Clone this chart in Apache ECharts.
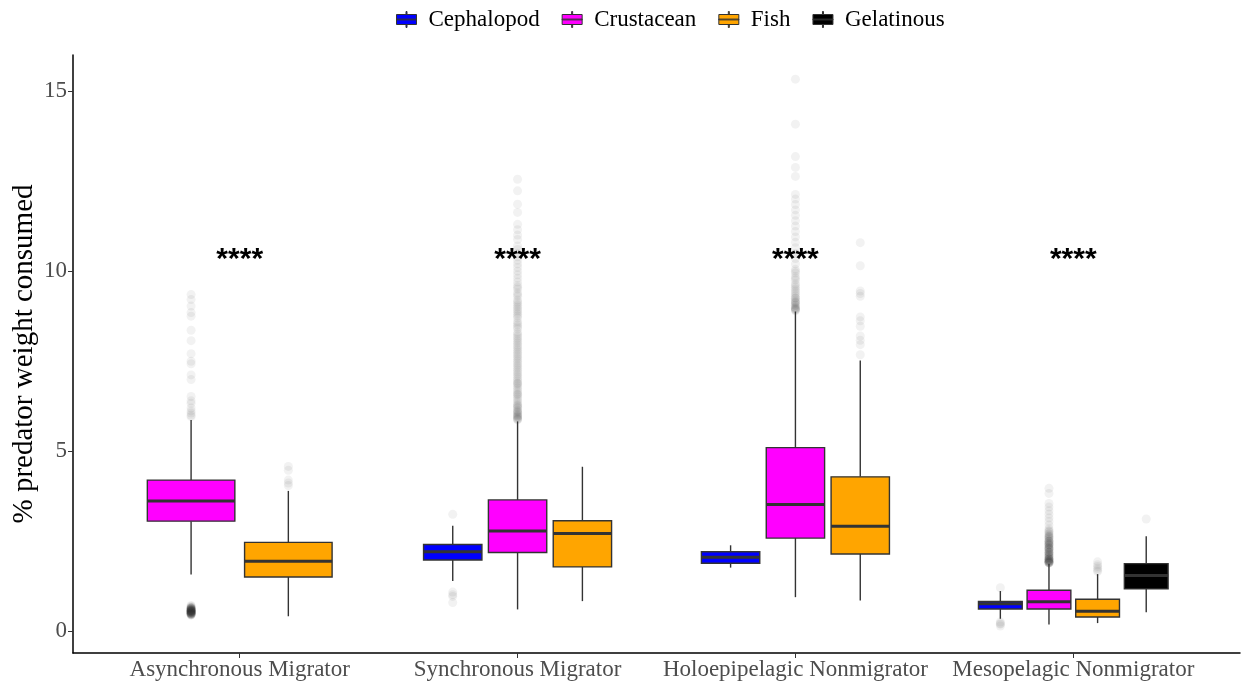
<!DOCTYPE html>
<html>
<head>
<meta charset="utf-8">
<script src="https://cdn.jsdelivr.net/npm/echarts@6/dist/echarts.min.js"></script>
<style>
  html, body { margin: 0; background: #fff; }
  #chart { width: 1243px; height: 681px; }
</style>
</head>
<body>
<div id="chart"></div>
<script>
const categories = ['Asynchronous Migrator', 'Synchronous Migrator', 'Holoepipelagic Nonmigrator', 'Mesopelagic Nonmigrator'];
const groups = ['Cephalopod', 'Crustacean', 'Fish', 'Gelatinous'];
const yTicks = [0, 5, 10, 15];
const signifLabels = ['****', '****', '****', '****'];
const signifY = [10.33, 10.33, 10.33, 10.33];

// [lower whisker, Q1, median, Q3, upper whisker] per category; null = prey group absent
const cephalopodBoxes = [null, [1.40, 1.98, 2.21, 2.41, 2.93], [1.77, 1.89, 2.06, 2.21, 2.39], [0.35, 0.62, 0.77, 0.83, 1.12]];
const crustaceanBoxes = [[1.58, 3.06, 3.62, 4.20, 5.87], [0.61, 2.19, 2.79, 3.65, 5.83], [0.95, 2.59, 3.52, 5.10, 8.88], [0.19, 0.62, 0.82, 1.14, 1.88]];
const fishBoxes = [[0.42, 1.51, 1.95, 2.47, 3.90], [0.84, 1.79, 2.72, 3.07, 4.57], [0.86, 2.15, 2.92, 4.29, 7.52], [0.23, 0.40, 0.56, 0.89, 1.59]];
const gelatinousBoxes = [null, null, null, [0.53, 1.18, 1.55, 1.88, 2.64]];

// outlying points per category
const cephalopodOutliers = [[], [3.25, 1.09, 1.02, 0.97, 0.80], [], [1.21, 0.26, 0.22, 0.20, 0.15]];
const crustaceanOutliers = [
  [9.35, 9.21, 9.03, 8.85, 8.75, 8.36, 8.07, 7.71, 7.50, 7.43, 7.12, 6.99, 6.52, 6.40, 6.33, 6.20, 6.12, 6.06, 6.00, 5.96,
   0.72, 0.70, 0.68, 0.66, 0.65, 0.64, 0.63, 0.62, 0.61, 0.60, 0.59, 0.58, 0.57, 0.56, 0.55, 0.54, 0.53, 0.52, 0.51, 0.50,
   0.49, 0.48, 0.47, 0.46, 0.45, 0.55, 0.52, 0.50, 0.58, 0.62, 0.48, 0.53, 0.56, 0.60, 0.51, 0.54, 0.57, 0.49, 0.59, 0.64,
   0.66, 0.61, 0.58, 0.55, 0.52, 0.50, 0.47, 0.63, 0.57, 0.54],
  [12.55, 12.23, 11.86, 11.63, 11.30, 11.15, 11.00, 10.88, 10.70, 10.60, 10.50, 10.40, 10.30, 10.20, 10.10, 10.00, 9.90, 9.80,
   9.70, 9.60, 9.50, 9.40, 9.30, 9.20, 9.10, 9.00, 8.90, 8.80, 8.70, 8.60, 8.50, 8.40, 8.30, 8.20, 8.10, 8.00, 7.90, 7.80,
   7.70, 7.60, 7.50, 7.40, 7.30, 7.20, 7.10, 7.00, 6.90, 6.80, 6.70, 6.60, 6.50, 6.40, 6.30, 6.20, 6.10, 6.00, 5.90,
   8.05, 7.85, 7.55, 7.35, 7.15, 6.95, 6.75, 6.55, 6.35, 6.25, 6.15, 6.05, 6.02, 5.95, 5.92, 5.87, 6.45, 6.65, 6.85,
   7.05, 7.65, 8.25, 8.55, 8.85, 9.05, 9.35, 9.55, 7.95, 7.25, 6.22, 6.08, 5.98, 5.89,
   9.15, 8.95, 8.75, 8.45, 8.15, 7.75, 7.45, 6.88, 6.58, 6.28, 6.12, 5.96],
  [15.33, 14.08, 13.18, 12.88, 12.63, 12.13, 12.00, 11.85, 11.70, 11.55, 11.40, 11.25, 11.10, 10.95, 10.80, 10.65, 10.50,
   10.35, 10.20, 10.05, 9.95, 9.85, 9.75, 9.65, 9.55, 9.45, 9.35, 9.25, 9.15, 9.05, 8.95, 8.90,
   9.80, 9.60, 9.40, 9.30, 9.20, 9.10, 9.00, 8.97, 8.92, 9.50, 10.00, 9.15, 9.05, 8.93, 9.25, 9.12, 8.98],
  [3.97, 3.83, 3.55, 3.45, 3.35, 3.25, 3.15, 3.05, 2.95, 2.85, 2.80, 2.75, 2.70, 2.65, 2.60, 2.55, 2.50, 2.45, 2.40, 2.35,
   2.30, 2.25, 2.20, 2.15, 2.10, 2.05, 2.00, 1.95, 1.90, 2.70, 2.60, 2.50, 2.40, 2.30, 2.20, 2.10, 2.00, 1.95, 1.90, 2.65,
   2.55, 2.45, 2.35, 2.25, 2.15, 2.05, 2.00, 1.92, 1.90, 2.50, 2.30, 2.10, 2.00, 1.95, 2.40, 2.20, 2.05, 1.93, 1.90, 2.78,
   2.62, 2.48, 2.32, 2.18, 2.02, 1.97, 1.91, 2.42, 2.28, 2.12, 1.98, 1.94]
];
const fishOutliers = [[4.58, 4.47, 4.20, 4.12, 4.05], [], [10.79, 10.15, 9.45, 9.38, 9.30, 8.73, 8.62, 8.47, 8.20, 8.08, 7.96, 7.68], [1.93, 1.85, 1.80, 1.75, 1.70, 1.66]];
const gelatinousOutliers = [[], [], [], [3.12]];

const groupColors = ['#0000ff', '#ff00ff', '#ffa500', '#000000'];
const boxesByGroup = [cephalopodBoxes, crustaceanBoxes, fishBoxes, gelatinousBoxes];
const outliersByGroup = [cephalopodOutliers, crustaceanOutliers, fishOutliers, gelatinousOutliers];
const serif = 'Liberation Serif, Times New Roman, serif';
const edge = '#333333';
// boxplot glyph for the legend keys: whiskers, box, median bar
const keyIcon = 'path://M9.5,0h1v3h-1Z M0,3h20v10h-20Z M0,7.6h20v0.8h-20Z M9.5,13h1v3h-1Z';

// ggplot-style dodge: the present groups share the category's width
const dodgeSpan = 0.7;
function slot(g, c) {
  const present = groups.map((_, i) => i).filter(i => boxesByGroup[i][c]);
  const n = present.length, k = present.indexOf(g);
  const w = dodgeSpan / n;
  return { x: c + 1 + (k - (n - 1) / 2) * w, half: w * 0.45 };
}

function renderBox(params, api) {
  const x = api.value(0), hw = api.value(6);
  const y = i => api.coord([x, api.value(i)])[1];
  const cx = api.coord([x, 0])[0];
  const xl = api.coord([x - hw, 0])[0], xr = api.coord([x + hw, 0])[0];
  const yLow = y(1), yQ1 = y(2), yMed = y(3), yQ3 = y(4), yHigh = y(5);
  const ls = { stroke: edge, lineWidth: 1.4 };
  return {
    type: 'group',
    children: [
      { type: 'line', shape: { x1: cx, y1: yHigh, x2: cx, y2: yQ3 }, style: ls },
      { type: 'line', shape: { x1: cx, y1: yQ1, x2: cx, y2: yLow }, style: ls },
      { type: 'rect', shape: { x: xl, y: yQ3, width: xr - xl, height: yQ1 - yQ3 },
        style: { fill: api.visual('color'), stroke: edge, lineWidth: 1.4 } },
      { type: 'line', shape: { x1: xl, y1: yMed, x2: xr, y2: yMed }, style: { stroke: edge, lineWidth: 3 } }
    ]
  };
}

const boxSeries = groups.map((name, g) => ({
  name,
  type: 'custom',
  z: 3,
  itemStyle: { color: groupColors[g] },
  encode: { x: 0, y: [1, 2, 3, 4, 5] },
  data: boxesByGroup[g]
    .map((b, c) => {
      if (!b) return null;
      const s = slot(g, c);
      return [s.x, ...b, s.half];
    })
    .filter(Boolean),
  renderItem: renderBox
}));

const outlierSeries = groups.map((name, g) => ({
  name: name + ' outliers',
  type: 'scatter',
  z: 2,
  silent: true,
  symbolSize: 9,
  itemStyle: { color: 'rgba(51,51,51,0.08)' },
  data: outliersByGroup[g].flatMap((vals, c) => {
    if (!vals.length) return [];
    const s = slot(g, c);
    return vals.map(v => [s.x, v]);
  })
}));

const signifSeries = {
  type: 'custom',
  z: 5,
  silent: true,
  data: categories.map((_, i) => [i + 1, signifY[i]]),
  renderItem: (params, api) => {
    const p = api.coord([api.value(0), api.value(1)]);
    return {
      type: 'text', x: p[0], y: p[1],
      style: { text: signifLabels[params.dataIndex], align: 'center', verticalAlign: 'middle',
               font: 'bold 30px Liberation Sans, Arial, sans-serif', fill: '#000' }
    };
  }
};

const chart = echarts.init(document.getElementById('chart'), null, { renderer: 'canvas' });
chart.setOption({
  backgroundColor: '#ffffff',
  animation: false,
  legend: {
    data: groups,
    top: 3,
    left: 391,
    icon: keyIcon,
    itemWidth: 20,
    itemHeight: 16,
    itemGap: 22,
    itemStyle: { borderColor: edge, borderWidth: 1 },
    textStyle: { fontFamily: serif, fontSize: 23, color: '#000', padding: [0, 0, 0, 7] }
  },
  grid: { left: 73, right: 3, top: 55, bottom: 28, outerBoundsMode: 'none' },
  xAxis: {
    type: 'value',
    min: 0.4,
    max: 4.6,
    splitLine: { show: false },
    axisLine: { onZero: false, lineStyle: { color: '#000', width: 1.5 } },
    axisTick: { show: true, length: 5, customValues: [1, 2, 3, 4], lineStyle: { color: edge } },
    axisLabel: {
      customValues: [1, 2, 3, 4],
      formatter: v => categories[Math.round(v) - 1],
      color: '#4d4d4d', fontFamily: serif, fontSize: 23, margin: 5
    }
  },
  yAxis: {
    type: 'value',
    min: -0.6,
    max: 16,
    name: '% predator weight consumed',
    nameLocation: 'middle',
    nameGap: 34,
    nameMoveOverlap: false,
    nameTextStyle: { fontFamily: serif, fontSize: 29, color: '#000' },
    splitLine: { show: false },
    axisLine: { show: true, onZero: false, lineStyle: { color: '#000', width: 1.5 } },
    axisTick: { show: true, length: 5, customValues: yTicks, lineStyle: { color: edge } },
    axisLabel: { customValues: yTicks, color: '#4d4d4d', fontFamily: serif, fontSize: 23, margin: 6 }
  },
  series: [...outlierSeries, ...boxSeries, signifSeries]
});
</script>
</body>
</html>
